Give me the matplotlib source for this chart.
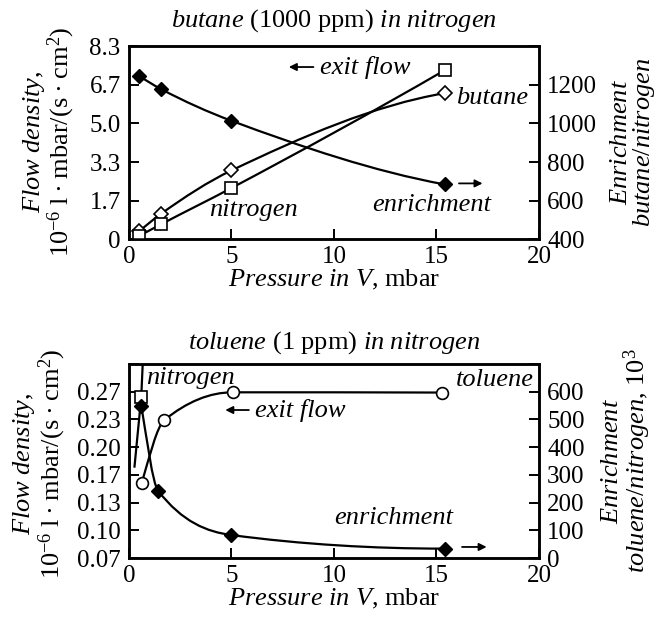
import numpy as np
import matplotlib
matplotlib.use('Agg')
from matplotlib import pyplot
from matplotlib.path import Path
from matplotlib.patches import PathPatch

pyplot.rcParams['font.family'] = ['Liberation Serif', 'DejaVu Serif']
pyplot.rcParams['mathtext.fontset'] = 'custom'
pyplot.rcParams['mathtext.rm'] = 'Liberation Serif'
pyplot.rcParams['mathtext.it'] = 'Liberation Serif:italic'
pyplot.rcParams['font.size'] = 19

# butane (1000 ppm) in nitrogen
b_press = [0.5, 1.57, 5.0, 15.4]
b_enrich = [1246, 1178, 1014, 684]
b_butane = [0.34, 1.10, 2.97, 6.31]
b_nitrogen = [0.14, 0.645, 2.21, 7.30]

# toluene (1 ppm) in nitrogen
t_press_tol = [0.62, 1.73, 5.06, 15.26]
t_toluene = [0.160, 0.236, 0.2693, 0.2690]
t_press_enr = [0.60, 1.42, 5.0, 15.4]
t_enrich = [550, 243, 83, 34]
t_press_nit = [0.27, 0.60, 0.70]
t_nitrogen = [0.180, 0.264, 0.32]

b_left_ticks = [0, 5/3, 10/3, 5.0, 20/3, 25/3]
b_left_labels = ['0', '1.7', '3.3', '5.0', '6.7', '8.3']
b_right_ticks = [400, 600, 800, 1000, 1200, 1400]
b_right_labels = ['400', '600', '800', '1000', '1200', '']
t_left_ticks = [0.07 + i*0.1/3 for i in range(8)]
t_left_labels = ['0.07', '0.10', '0.13', '0.17', '0.20', '0.23', '0.27', '']
t_right_ticks = [0, 100, 200, 300, 400, 500, 600, 700]
t_right_labels = ['0', '100', '200', '300', '400', '500', '600', '']
x_ticks = [0, 5, 10, 15, 20]

TICK_FS = 18
FS = 19
FLOW_LABEL = ('$\\it{Flow\\ density,}$\n'
              '10$^{-6}$\u2009l\u2009·\u2009mbar/(s\u2009·\u2009cm$^2$)')


def end_slope(h0, h1, s0, s1):
    d = ((2*h0 + h1)*s0 - h0*s1)/(h0 + h1)
    if np.sign(d) != np.sign(s0):
        return 0.0
    if np.sign(s0) != np.sign(s1) and abs(d) > 3*abs(s0):
        return 3*s0
    return d


def smooth_line(ax, xs, ys, lw=1.6):
    """Draws a monotone (PCHIP-like) cubic curve through the points."""
    x = np.asarray(xs, float)
    y = np.asarray(ys, float)
    h = np.diff(x)
    s = np.diff(y)/h
    n = len(x)
    d = np.zeros(n)
    for k in range(1, n - 1):
        if s[k - 1]*s[k] > 0:
            w1 = 2*h[k] + h[k - 1]
            w2 = h[k] + 2*h[k - 1]
            d[k] = (w1 + w2)/(w1/s[k - 1] + w2/s[k])
    d[0] = end_slope(h[0], h[1], s[0], s[1])
    d[-1] = end_slope(h[-1], h[-2], s[-1], s[-2])
    verts = [(x[0], y[0])]
    codes = [Path.MOVETO]
    for k in range(n - 1):
        verts += [(x[k] + h[k]/3, y[k] + d[k]*h[k]/3),
                  (x[k + 1] - h[k]/3, y[k + 1] - d[k + 1]*h[k]/3),
                  (x[k + 1], y[k + 1])]
        codes += [Path.CURVE4]*3
    ax.add_patch(PathPatch(Path(verts, codes), fill=False,
                           edgecolor='black', linewidth=lw, zorder=3))


def arrow(ax, x0, x1, y):
    ax.annotate('', xy=(x1, y), xytext=(x0, y),
                arrowprops=dict(arrowstyle='-|>', color='black', lw=1.3,
                                mutation_scale=11, shrinkA=0, shrinkB=0))


def style_axes(ax, ax2):
    for a in (ax, ax2):
        for sp in a.spines.values():
            sp.set_linewidth(1.8)
        a.tick_params(direction='in', length=7, width=1.4,
                      labelsize=TICK_FS, pad=6)
    ax.tick_params(axis='x', pad=5)
    ax.set_xlim(0, 20)
    ax.set_xticks(x_ticks)
    ax.set_xlabel(r'$\it{Pressure\ in\ V}$, mbar', fontsize=FS, labelpad=0)


fig = pyplot.figure(figsize=(6.58, 6.18), dpi=100)

# top panel
ax = fig.add_axes([0.196, 0.613, 0.623, 0.312])
ax2 = ax.twinx()
style_axes(ax, ax2)
ax.set_ylim(0, 25/3)
ax.set_yticks(b_left_ticks)
ax.set_yticklabels(b_left_labels)
ax2.set_ylim(400, 1400)
ax2.set_yticks(b_right_ticks)
ax2.set_yticklabels(b_right_labels)
smooth_line(ax2, b_press, b_enrich)
smooth_line(ax, b_press, b_butane)
smooth_line(ax, b_press, b_nitrogen)
ax2.plot(b_press, b_enrich, ls='none', marker='D', ms=7.5,
         mfc='black', mec='black', zorder=5)
ax.plot(b_press, b_butane, ls='none', marker='D', ms=7.5,
        mfc='white', mec='black', mew=1.2, zorder=5)
ax.plot(b_press, b_nitrogen, ls='none', marker='s', ms=8.5,
        mfc='white', mec='black', mew=1.2, zorder=5)
ax.set_title(r'$\it{butane}$ (1000 ppm) $\it{in\ nitrogen}$',
             fontsize=FS, pad=14)
fig.text(0.075, 0.770, FLOW_LABEL, rotation=90, ha='center', va='center',
         fontsize=FS, linespacing=0.95, multialignment='center')
fig.text(0.963, 0.770, '$\\it{Enrichment}$\n$\\it{butane/nitrogen}$',
         rotation=90, ha='center', va='center', fontsize=FS,
         linespacing=0.95, multialignment='center')
arrow(ax, 9.0, 7.8, 7.44)
ax.text(9.3, 7.44, 'exit flow', style='italic', va='center', ha='left')
ax.text(15.95, 6.12, 'butane', style='italic', va='center', ha='left')
ax.text(3.9, 1.25, 'nitrogen', style='italic', va='center', ha='left')
ax.text(11.85, 1.46, 'enrichment', style='italic', va='center', ha='left')
arrow(ax, 16.1, 17.25, 2.41)

# bottom panel
bx = fig.add_axes([0.196, 0.097, 0.623, 0.314])
bx2 = bx.twinx()
style_axes(bx, bx2)
bx.set_ylim(0.07, 0.07 + 0.7/3)
bx.set_yticks(t_left_ticks)
bx.set_yticklabels(t_left_labels)
bx2.set_ylim(0, 700)
bx2.set_yticks(t_right_ticks)
bx2.set_yticklabels(t_right_labels)
smooth_line(bx, t_press_tol, t_toluene)
smooth_line(bx2, t_press_enr, t_enrich)
bx.plot(t_press_nit, t_nitrogen, color='black', lw=1.6, zorder=3)
bx2.plot(t_press_enr, t_enrich, ls='none', marker='D', ms=7.5,
         mfc='black', mec='black', zorder=5)
bx.plot(t_press_tol, t_toluene, ls='none', marker='o', ms=8.5,
        mfc='white', mec='black', mew=1.2, zorder=5)
bx.plot(t_press_nit[1:2], t_nitrogen[1:2], ls='none', marker='s', ms=8.5,
        mfc='white', mec='black', mew=1.2, zorder=6)
bx.set_title(r'$\it{toluene}$ (1 ppm) $\it{in\ nitrogen}$',
             fontsize=FS, pad=11)
fig.text(0.060, 0.250, FLOW_LABEL, rotation=90, ha='center', va='center',
         fontsize=FS, linespacing=0.95, multialignment='center')
fig.text(0.953, 0.254,
         '$\\it{Enrichment}$\n$\\it{toluene/nitrogen}$, 10$^3$',
         rotation=90, ha='center', va='center', fontsize=FS,
         linespacing=0.95, multialignment='center')
bx.text(0.85, 0.2865, 'nitrogen', style='italic', va='center', ha='left')
bx.text(15.95, 0.284, 'toluene', style='italic', va='center', ha='left')
arrow(bx, 5.85, 4.7, 0.248)
bx.text(6.15, 0.248, 'exit flow', style='italic', va='center', ha='left')
bx2.text(10.0, 144, 'enrichment', style='italic', va='center', ha='left')
arrow(bx2, 16.25, 17.45, 40)

fig.savefig('out.png', dpi=100)
